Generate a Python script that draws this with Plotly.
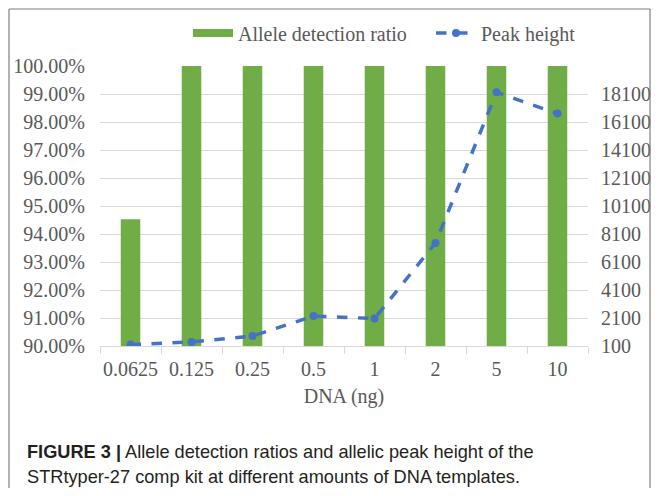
import plotly.graph_objects as go

# ---- data ----
dna_amounts = ["0.0625", "0.125", "0.25", "0.5", "1", "2", "5", "10"]
allele_detection_ratio = [0.9453, 1.0, 1.0, 1.0, 1.0, 1.0, 1.0, 1.0]
peak_height = [200, 390, 810, 2240, 2060, 7460, 18220, 16700]

left_ticks = [0.90, 0.91, 0.92, 0.93, 0.94, 0.95, 0.96, 0.97, 0.98, 0.99, 1.00]
right_ticks = [100, 2100, 4100, 6100, 8100, 10100, 12100, 14100, 16100, 18100]

# ---- layout geometry (screen pixels; the page body adds an 8px offset) ----
OFF = 8
W, H = 659 - 2 * OFF, 496 - 2 * OFF
L, R, T, B = 100, 588, 66, 346  # plot area in screen pixels


def px(x):
    return (x - L) / (R - L)


def py(y):
    return (B - y) / (B - T)


GREEN = "#70AD47"
BLUE = "#4472C4"
GREY_TXT = "#595959"
GRID = "#D9D9D9"
SERIF = "Liberation Serif"

fig = go.Figure()

fig.add_trace(go.Bar(
    x=dna_amounts, y=allele_detection_ratio, name="Allele detection ratio",
    marker=dict(color=GREEN, line=dict(width=0)), width=0.32,
    showlegend=False, legendgroup="adr", yaxis="y",
))
# legend stand-in with a wide green swatch
fig.add_trace(go.Scatter(
    x=[None], y=[None], mode="lines", name="Allele detection ratio",
    line=dict(color=GREEN, width=8), legendgroup="adr", yaxis="y",
))
fig.add_trace(go.Scatter(
    x=dna_amounts, y=peak_height, name="Peak height", mode="lines+markers",
    line=dict(color=BLUE, width=3.5, dash="dash"),
    marker=dict(color=BLUE, size=8, symbol="circle"),
    yaxis="y2",
))

fig.update_layout(
    width=W, height=H,
    margin=dict(l=L - OFF, r=(W + OFF) - R, t=T - OFF, b=(H + OFF) - B,
                pad=0, autoexpand=False),
    paper_bgcolor="white", plot_bgcolor="white",
    font=dict(family=SERIF, size=20, color=GREY_TXT),
    showlegend=True,
    legend=dict(
        orientation="h", x=px(188), xanchor="left", y=py(33), yanchor="middle",
        font=dict(family=SERIF, size=20, color=GREY_TXT),
        bgcolor="rgba(0,0,0,0)", itemwidth=40, tracegroupgap=0,
        entrywidthmode="pixels", entrywidth=188,
    ),
    xaxis=dict(
        type="category", categoryorder="array", categoryarray=dna_amounts,
        showgrid=False, showline=True, linecolor=GRID, linewidth=1,
        ticks="outside", tickson="boundaries", ticklen=7, tickcolor=GRID,
        tickangle=0, automargin=False, ticklabelstandoff=5,
        tickfont=dict(family=SERIF, size=20, color=GREY_TXT),
        title=dict(text="DNA (ng)", standoff=9,
                   font=dict(family=SERIF, size=20, color=GREY_TXT)),
    ),
    yaxis=dict(
        range=[0.90, 1.00], tickvals=left_ticks, tickformat=".2%",
        showgrid=True, gridcolor=GRID, gridwidth=1, zeroline=False,
        showline=False, ticks="", ticklabelstandoff=14, automargin=False,
        tickfont=dict(family=SERIF, size=20, color=GREY_TXT),
    ),
    yaxis2=dict(
        overlaying="y", side="right", range=[100, 20100], tickvals=right_ticks,
        tickformat="d",
        showgrid=False, zeroline=False, showline=False, ticks="",
        ticklabelstandoff=12, automargin=False,
        tickfont=dict(family=SERIF, size=20, color=GREY_TXT),
    ),
    bargap=0.68,
)

# outer frame (open at the bottom of the image)
FRAME = dict(color="#7F7F7F", width=1.2)
for x0, y0, x1, y1 in [(9, 9, 9, 520), (9, 9, 650, 9), (650, 9, 650, 520)]:
    fig.add_shape(type="line", xref="paper", yref="paper",
                  x0=px(x0), y0=py(y0), x1=px(x1), y1=py(y1), line=FRAME)

# caption
CAP = dict(family="Liberation Sans", size=18.2, color="#231F20")
fig.add_annotation(xref="paper", yref="paper", x=px(25), y=py(452),
                   xanchor="left", yanchor="middle", showarrow=False,
                   text="<b>FIGURE 3 |</b> Allele detection ratios and allelic peak height of the",
                   font=CAP)
fig.add_annotation(xref="paper", yref="paper", x=px(25), y=py(477),
                   xanchor="left", yanchor="middle", showarrow=False,
                   text="STRtyper-27 comp kit at different amounts of DNA templates.",
                   font=CAP)

fig.write_html("out.html")
